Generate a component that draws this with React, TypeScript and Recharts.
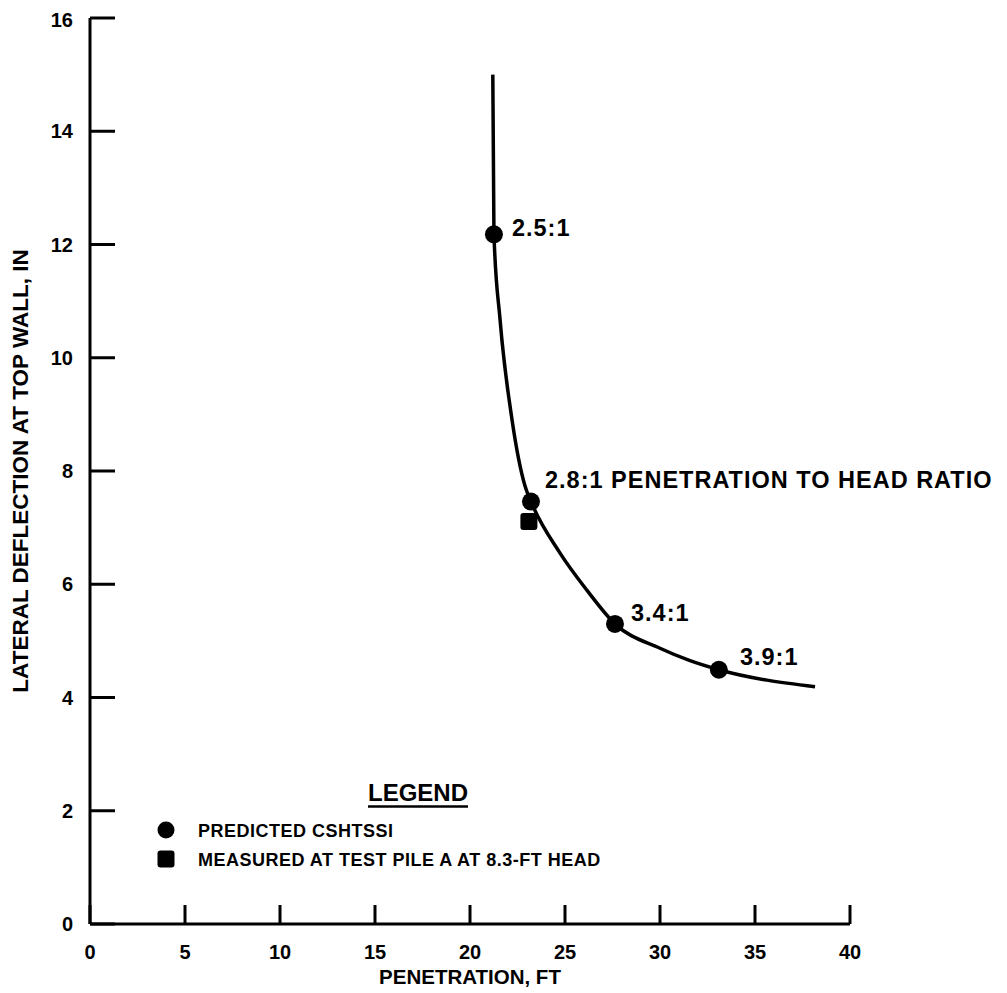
import {
  ComposedChart,
  Line,
  Scatter,
  XAxis,
  YAxis,
  Legend,
  Label,
} from 'recharts'

// penetration (ft) / lateral deflection (in)
const CURVE_X = [21.2, 21.26, 21.58, 22.21, 22.9, 23.21, 24.74, 26.14, 27.63, 30.0, 31.58, 33.1, 38.16]
const CURVE_Y = [15.0, 12.18, 10.68, 8.91, 7.73, 7.46, 6.55, 5.9, 5.3, 4.87, 4.65, 4.49, 4.19]

const PREDICTED_X = [21.26, 23.21, 27.63, 33.1]
const PREDICTED_Y = [12.18, 7.46, 5.3, 4.49]
const RATIO_LABELS = ['2.5:1', '2.8:1 PENETRATION TO HEAD RATIO', '3.4:1', '3.9:1']

const MEASURED_X = [23.1]
const MEASURED_Y = [7.11]

const X_TICKS = [0, 5, 10, 15, 20, 25, 30, 35, 40]
const Y_TICKS = [0, 2, 4, 6, 8, 10, 12, 14, 16]

// where each ratio label sits relative to its dot (dx, dy of the text's left / middle)
const LABEL_OFFSETS = [
  [18, -7],
  [14, -22],
  [16, -11],
  [21, -13],
]

const FONT = '"Liberation Sans", Arial, Helvetica, sans-serif'
const INK = '#000'

const curveData = CURVE_X.map((x, i) => ({ x, y: CURVE_Y[i] }))
const predictedData = PREDICTED_X.map((x, i) => ({ x, y: PREDICTED_Y[i], label: RATIO_LABELS[i], idx: i }))
const measuredData = MEASURED_X.map((x, i) => ({ x, y: MEASURED_Y[i] }))

function PredictedDot(props: any) {
  const { cx, cy, payload } = props
  const [dx, dy] = LABEL_OFFSETS[payload.idx] || [16, -10]
  const fs = 23.5
  return (
    <g>
      <circle cx={cx} cy={cy} r={9} fill={INK} />
      <text
        x={cx + dx}
        y={cy + dy + fs * 0.36}
        fill={INK}
        fontSize={fs}
        fontWeight={700}
        fontFamily={FONT}
        letterSpacing={1}
      >
        {payload.label}
      </text>
    </g>
  )
}

function MeasuredSquare(props: any) {
  const { cx, cy } = props
  return <rect x={cx - 8.5} y={cy - 8.5} width={17} height={17} rx={3} fill={INK} />
}

function LegendBox() {
  const rowText = { fontSize: 18, fontWeight: 700, fontFamily: FONT, fill: INK, letterSpacing: 0.5 }
  return (
    <svg width={480} height={110} style={{ display: 'block', overflow: 'visible' }}>
      <text x={268} y={31} textAnchor="middle" fontSize={24} fontWeight={700} fontFamily={FONT} fill={INK}>
        LEGEND
      </text>
      <line x1={218} x2={318} y1={36.5} y2={36.5} stroke={INK} strokeWidth={2.5} />
      <circle cx={16} cy={60} r={8.5} fill={INK} />
      <text x={48} y={66.5} {...rowText}>
        PREDICTED CSHTSSI
      </text>
      <rect x={7.5} y={80.5} width={17} height={17} rx={3} fill={INK} />
      <text x={48} y={95.5} {...rowText}>
        MEASURED AT TEST PILE A AT 8.3-FT HEAD
      </text>
    </svg>
  )
}

const tickStyle = { fill: INK, fontSize: 20, fontWeight: 700, fontFamily: FONT }
const lineStyle = { stroke: INK, strokeWidth: 3 }

export default function App() {
  return (
    <div style={{ width: 991, height: 980, background: '#fff' }}>
      <ComposedChart
        width={991}
        height={980}
        margin={{ top: 10, right: 149, bottom: 0, left: 0 }}
        style={{ overflow: 'visible' }}
      >
        <XAxis
          type="number"
          dataKey="x"
          domain={[0, 40]}
          ticks={X_TICKS}
          height={64}
          tick={tickStyle}
          tickSize={-19}
          tickMargin={40}
          axisLine={lineStyle}
          tickLine={lineStyle}
        >
          <Label
            value="PENETRATION, FT"
            position="insideBottom"
            offset={4}
            style={{ fill: INK, fontSize: 20.5, fontWeight: 700, fontFamily: FONT }}
          />
        </XAxis>
        <YAxis
          type="number"
          dataKey="y"
          domain={[0, 16]}
          ticks={Y_TICKS}
          width={82}
          tick={tickStyle}
          tickSize={-25}
          tickMargin={42}
          axisLine={lineStyle}
          tickLine={lineStyle}
        >
          <Label
            value="LATERAL DEFLECTION AT TOP WALL, IN"
            angle={-90}
            position="insideLeft"
            offset={12}
            style={{ textAnchor: 'middle', fill: INK, fontSize: 22.5, fontWeight: 700, fontFamily: FONT }}
          />
        </YAxis>
        <Legend
          layout="vertical"
          align="center"
          verticalAlign="middle"
          content={() => <LegendBox />}
          wrapperStyle={{ position: 'absolute', left: 142, top: 762, width: 480 }}
        />
        <Line
          data={curveData}
          dataKey="y"
          type="monotone"
          stroke={INK}
          strokeWidth={3.5}
          dot={false}
          activeDot={false}
          legendType="none"
          isAnimationActive={false}
        />
        <Scatter
          name="MEASURED AT TEST PILE A AT 8.3-FT HEAD"
          data={measuredData}
          dataKey="y"
          shape={MeasuredSquare}
          isAnimationActive={false}
        />
        <Scatter
          name="PREDICTED CSHTSSI"
          data={predictedData}
          dataKey="y"
          shape={PredictedDot}
          isAnimationActive={false}
        />
      </ComposedChart>
    </div>
  )
}
